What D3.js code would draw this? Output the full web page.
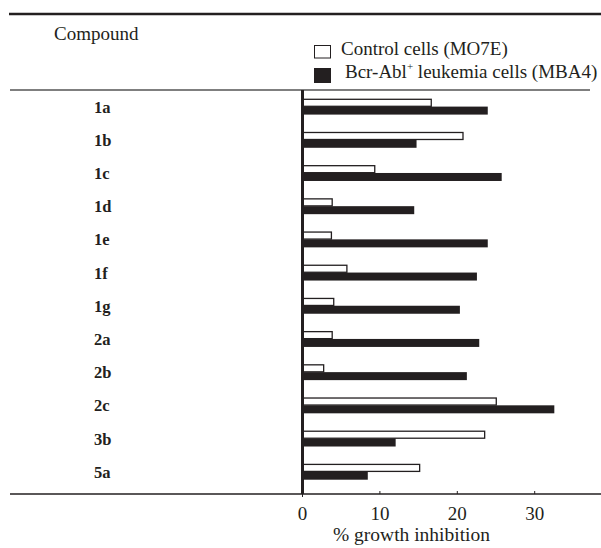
<!DOCTYPE html>
<html>
<head>
<meta charset="utf-8">
<script src="https://cdnjs.cloudflare.com/ajax/libs/d3/7.8.5/d3.min.js"></script>
<style>
  body { margin: 0; background: #fff; }
  svg text { font-family: "Liberation Serif", "DejaVu Serif", serif; fill: #231f20; }
</style>
</head>
<body>
<div id="chart"></div>
<script>
// values (% growth inhibition)
const compounds = ["1a", "1b", "1c", "1d", "1e", "1f", "1g", "2a", "2b", "2c", "3b", "5a"];
const control_values = [16.7, 20.8, 9.4, 3.9, 3.8, 5.8, 4.1, 3.9, 2.8, 25.1, 23.6, 15.2];
const leukemia_values = [24.0, 14.8, 25.8, 14.5, 24.0, 22.6, 20.4, 22.9, 21.3, 32.6, 12.1, 8.5];
const x_ticks = [0, 10, 20, 30];
const series_names = ["Control cells (MO7E)", "Bcr-Abl", " leukemia cells (MBA4)"];

const ink = "#231f20";
const serif = "Liberation Serif, DejaVu Serif, serif";
const width = 601, height = 548;
const axis_y = 494;

const svg = d3.select("#chart").append("svg")
    .attr("width", width)
    .attr("height", height);

const x_scale = d3.scaleLinear()
    .domain([0, 38])
    .range([302, 302 + 38 * 7.74]);

const y_scale = d3.scaleBand()
    .domain(compounds)
    .range([90, 488.3])
    .padding(0);

const bar_h = 8;

// rules of the table
svg.append("line")
    .attr("x1", 9).attr("x2", 601).attr("y1", 14).attr("y2", 14)
    .attr("stroke", ink).attr("stroke-width", 2.3);
svg.append("line")
    .attr("x1", 10).attr("x2", 590).attr("y1", 90).attr("y2", 90)
    .attr("stroke", "#555").attr("stroke-width", 1.3);

svg.append("text")
    .attr("x", 54).attr("y", 40)
    .attr("font-family", serif)
    .attr("font-size", 19)
    .text("Compound");

// legend
svg.append("rect")
    .attr("x", 314.5).attr("y", 45.5).attr("width", 16).attr("height", 12.5)
    .attr("fill", "#fff").attr("stroke", ink).attr("stroke-width", 1);
svg.append("text")
    .attr("x", 341).attr("y", 54.5)
    .attr("font-family", serif)
    .attr("font-size", 19)
    .text(series_names[0]);
svg.append("rect")
    .attr("x", 314).attr("y", 68).attr("width", 17).attr("height", 15)
    .attr("fill", ink);
var leg2 = svg.append("text")
    .attr("x", 345).attr("y", 77.5)
    .attr("font-family", serif)
    .attr("font-size", 19);
leg2.append("tspan").text(series_names[1]);
leg2.append("tspan").attr("font-size", 11).attr("dy", -8).text("+");
leg2.append("tspan").attr("dy", 8).text(series_names[2]);

// row labels
svg.selectAll(".row-label").data(compounds)
    .enter().append("text")
    .attr("class", "row-label")
    .attr("x", 94)
    .attr("y", function (d) { return y_scale(d) + y_scale.bandwidth() / 2 + 6; })
    .attr("font-family", serif)
    .attr("font-size", 16.5)
    .attr("font-weight", "bold")
    .text(function (d) { return d; });

// bars
svg.selectAll(".bar-control").data(compounds)
    .enter().append("rect")
    .attr("class", "bar-control")
    .attr("x", x_scale(0))
    .attr("y", function (d) { return y_scale(d) + y_scale.bandwidth() / 2 - bar_h + 0.7; })
    .attr("width", function (d, i) { return x_scale(control_values[i]) - x_scale(0); })
    .attr("height", bar_h - 1)
    .attr("fill", "#fff")
    .attr("stroke", ink)
    .attr("stroke-width", 1.3);

svg.selectAll(".bar-leuk").data(compounds)
    .enter().append("rect")
    .attr("class", "bar-leuk")
    .attr("x", x_scale(0))
    .attr("y", function (d) { return y_scale(d) + y_scale.bandwidth() / 2; })
    .attr("width", function (d, i) { return x_scale(leukemia_values[i]) - x_scale(0); })
    .attr("height", bar_h)
    .attr("fill", ink);

// vertical zero axis
svg.append("line")
    .attr("x1", x_scale(0) + 0.5).attr("x2", x_scale(0) + 0.5)
    .attr("y1", 90).attr("y2", axis_y)
    .attr("stroke", ink).attr("stroke-width", 3);

// bottom axis
svg.append("line")
    .attr("x1", 10).attr("x2", 601).attr("y1", axis_y).attr("y2", axis_y)
    .attr("stroke", ink).attr("stroke-width", 1.3);

var x_axis = d3.axisBottom(x_scale)
    .tickValues(x_ticks)
    .tickSize(-3)
    .tickPadding(8);
var gx = svg.append("g")
    .attr("transform", "translate(0," + axis_y + ")")
    .attr("font-family", serif)
    .call(x_axis);
gx.select(".domain").remove();
gx.selectAll(".tick line").attr("stroke", ink).attr("stroke-width", 1);
gx.selectAll(".tick text")
    .attr("font-family", serif)
    .attr("font-size", 19)
    .attr("fill", ink)
    .attr("dy", "0.95em");
gx.selectAll(".tick").filter(function (d) { return d === 0; })
    .select("line").attr("y2", 3);

svg.append("text")
    .attr("x", 411.5).attr("y", 541)
    .attr("text-anchor", "middle")
    .attr("font-family", serif)
    .attr("font-size", 19.5)
    .text("% growth inhibition");
</script>
</body>
</html>
